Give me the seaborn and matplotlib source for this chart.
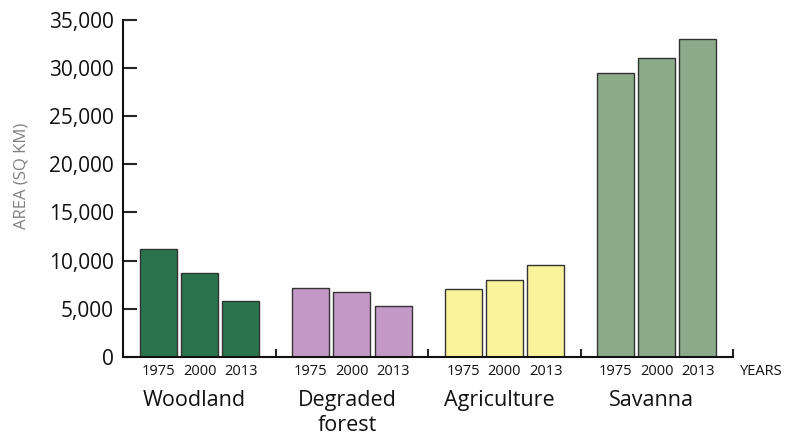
import pandas as pd
import matplotlib.pyplot as plt
import matplotlib.transforms as mtransforms
import seaborn as sns

# data (sq km)
covers = ["Woodland", "Degraded\nforest", "Agriculture", "Savanna"]
years = ["1975", "2000", "2013"]
woodland = [11200, 8700, 5800]
degraded = [7200, 6700, 5250]
agriculture = [7100, 8000, 9500]
savanna = [29500, 31000, 33000]
cover_colors = ["#29734D", "#C599C7", "#F9F39B", "#8BAB89"]
yticks = [0, 5000, 10000, 15000, 20000, 25000, 30000, 35000]

rows = []
for cover, vals in zip(covers, [woodland, degraded, agriculture, savanna]):
    for yr, v in zip(years, vals):
        rows.append({"cover": cover, "year": yr, "area": v})
df = pd.DataFrame(rows)

sns.set_style("ticks")
plt.rcParams["font.family"] = ["Open Sans", "DejaVu Sans"]

fig = plt.figure(figsize=(7.89, 4.4), dpi=100)
ax = fig.add_axes([0.1563, 0.1886, 0.7727, 0.767])

sns.barplot(data=df, x="cover", y="area", hue="year", order=covers,
            hue_order=years, width=0.81, gap=0.1, errorbar=None,
            edgecolor="#333333", linewidth=1, legend=False, ax=ax)

# colour by land cover, not by year
for container, yr in zip(ax.containers, years):
    for bar, c in zip(container, cover_colors):
        bar.set_facecolor(c)
        # year label under each bar
        ax.text(bar.get_x() + bar.get_width() / 2, -0.043, yr,
                transform=ax.get_xaxis_transform(), ha="center", va="center",
                fontsize=10.5, color="#111111")

ax.set_xlim(-0.5, 3.5)
ax.set_ylim(0, 35000)
ax.set_yticks(yticks)
ax.set_yticklabels([f"{v:,}" for v in yticks])
ax.tick_params(axis="y", direction="in", length=10, width=1.5, pad=7,
               labelsize=15, labelcolor="#111111")

ax.set_xticks(range(len(covers)))
ax.set_xticklabels(covers)
ax.tick_params(axis="x", which="major", length=0, pad=24, labelsize=15.5,
               labelcolor="#111111")
# category names sit a little left of the group centre
shift = mtransforms.ScaledTranslation(-0.05, 0, fig.dpi_scale_trans)
for lab in ax.get_xticklabels():
    lab.set_transform(lab.get_transform() + shift)
ax.set_xticks([0.5, 1.5, 2.5, 3.5], minor=True)
ax.tick_params(axis="x", which="minor", direction="in", length=6, width=1.5)

ax.text(1.012, -0.043, "YEARS", transform=ax.transAxes, ha="left",
        va="center", fontsize=10.5, color="#111111")

ax.set_xlabel("")
ax.set_ylabel("AREA (SQ KM)", fontsize=12, color="#808080")
ax.yaxis.set_label_coords(-0.154, 0.536)

sns.despine(ax=ax)
for s in ["left", "bottom"]:
    ax.spines[s].set_linewidth(1.5)
    ax.spines[s].set_color("#111111")

fig.savefig("out.png", dpi=100)
